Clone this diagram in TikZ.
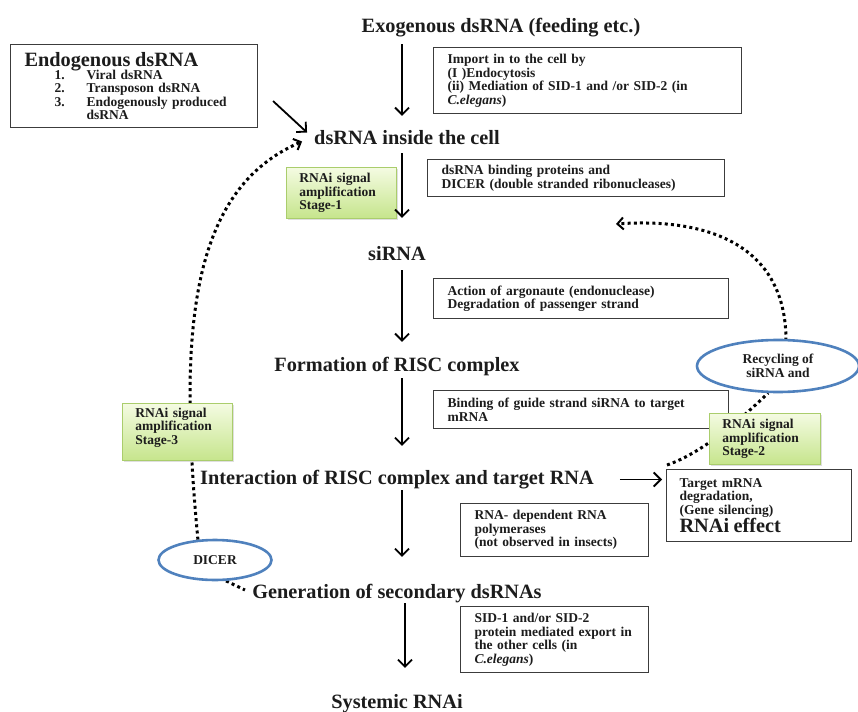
\documentclass[tikz,border=0pt]{standalone}
\usepackage{fontspec}
\setmainfont{Liberation Serif}
\usetikzlibrary{arrows.meta,shapes.geometric,shadows,backgrounds,calc}
\definecolor{txt}{HTML}{1C1C1C}
\definecolor{boxline}{HTML}{3C3C3C}
\definecolor{gtop}{HTML}{F4FBE2}
\definecolor{gbot}{HTML}{C6E58C}
\definecolor{gline}{HTML}{AACD6C}
\definecolor{eblue}{HTML}{4F81BD}
\begin{document}
\begin{tikzpicture}[x=1pt,y=-1pt,
  big/.style={font=\fontsize{20.3}{24}\selectfont\bfseries, text=txt, inner sep=0pt, anchor=base, text height=14pt, text depth=5pt},
  small/.style={font=\fontsize{13.5}{13.5}\selectfont\bfseries, text=txt},
  wbox/.style={small, draw=boxline, line width=1.1pt, fill=white, anchor=north west, align=left, inner xsep=14pt, inner ysep=0pt},
  gbox/.style={small, draw=gline, line width=0.8pt, top color=gtop, bottom color=gbot, anchor=north west, align=left, inner xsep=13pt, inner ysep=0pt, text width=84pt, drop shadow={opacity=0.25, shadow xshift=1.5pt, shadow yshift=-1.5pt}},
  oval/.style={ellipse, draw=eblue, line width=2.6pt, small, align=center, inner sep=0pt},
  arr/.style={line width=1.8pt, -{Straight Barb[length=7pt, width=14pt]}},
  dots/.style={line width=3pt, dash pattern=on 3pt off 3.2pt},
  darr/.style={dots, -{Straight Barb[length=6pt, width=12pt, line width=2pt]}}
]
\useasboundingbox (0,0) rectangle (858,711);

% main flow labels
\node[big] (exo) at (501,33) {Exogenous dsRNA (feeding etc.)};
\node[big] (inside) at (407,145) {dsRNA inside the cell};
\node[big] (sirna) at (397,260) {siRNA};
\node[big] (risc) at (397,371) {Formation of RISC complex};
\node[big] (inter) at (397,484) {Interaction of RISC complex and target RNA};
\node[big] (gen) at (397,598) {Generation of secondary dsRNAs};
\node[big] (sys) at (397,708) {Systemic RNAi};

% boxes
\node[wbox, text width=219pt, minimum height=83pt] (endo) at (10,44)
 {{\fontsize{20.3}{20}\selectfont Endogenous dsRNA}\\[-1.5pt]
  \hspace*{30pt}\makebox[32pt][l]{1.}Viral dsRNA\\
  \hspace*{30pt}\makebox[32pt][l]{2.}Transposon dsRNA\\
  \hspace*{30pt}\makebox[32pt][l]{3.}Endogenously produced\\
  \hspace*{62pt}dsRNA};
\node[wbox, text width=280pt, minimum height=66pt] (import) at (433,47)
 {Import in to the cell by\\(I )Endocytosis\\(ii) Mediation of SID-1 and /or SID-2 (in\\\textit{C.elegans})};
\node[wbox, text width=269pt, minimum height=37pt] (dbp) at (427,159)
 {dsRNA binding proteins and\\DICER (double stranded ribonucleases)};
\node[wbox, text width=267pt, minimum height=40pt] (argo) at (433,278)
 {Action of argonaute (endonuclease)\\Degradation of passenger strand};
\node[wbox, text width=267pt, minimum height=38pt] (guide) at (433,390)
 {Binding of guide strand siRNA to target\\mRNA};
\node[wbox, text width=160pt, minimum height=53pt] (rdrp) at (460,503)
 {RNA- dependent RNA\\polymerases\\(not observed in insects)};
\node[wbox, text width=160pt, minimum height=66pt] (sid) at (460,606)
 {SID-1 and/or SID-2\\protein mediated export in\\the other cells (in\\\textit{C.elegans})};
\node[wbox, inner xsep=13pt, text width=159pt, minimum height=72pt] (target) at (666,469)
 {Target mRNA\\degradation,\\(Gene silencing)\\{\fontsize{20.3}{20}\selectfont RNAi effect}};

% green boxes
\node[gbox, minimum height=51pt] (st1) at (286,167) {RNAi signal\\amplification\\Stage-1};
\node[gbox, minimum height=57pt] (st3) at (122,403) {RNAi signal\\amplification\\Stage-3\par\vspace*{9pt}};
\node[gbox, text width=85pt, minimum height=51pt] (st2) at (709,413) {RNAi signal\\amplification\\Stage-2};

% ellipses
\node[oval, minimum width=162pt, minimum height=52pt] (rec) at (778,366) {Recycling of\\siRNA and};
\node[oval, minimum width=113pt, minimum height=40pt] (dicer) at (215,560) {DICER};

\coordinate (ax) at (402,0);
\coordinate (ax2) at (405,0);
\coordinate (recyc) at (616,224);

% main arrows
\draw[arr, shorten <=6pt, shorten >=15pt] (exo.south -| ax) -- (inside.north -| ax);
\draw[arr, shorten <=3pt, shorten >=28pt] (inside.south -| ax) -- (sirna.north -| ax);
\draw[arr, shorten <=5pt, shorten >=15pt] (sirna.south -| ax) -- (risc.north -| ax);
\draw[arr, shorten <=2pt, shorten >=24pt] (risc.south -| ax) -- (inter.north -| ax);
\draw[arr, shorten <=1pt, shorten >=27pt] (inter.south -| ax) -- (gen.north -| ax);
\draw[arr, shorten <=0pt, shorten >=26pt] (gen.south -| ax2) -- (sys.north -| ax2);
\draw[arr, shorten <=26pt, shorten >=4pt] (inter.east) -- (inter.east -| target.west);
\draw[arr] ($(endo.south east)+(15,-27)$) -- ($(inside.west)+(-7,-8)$);

\begin{scope}[on background layer]
\fill[white] (0,0) rectangle (858,711);
\draw[darr] (dicer.130) .. controls (178,330) and (190,190) .. ($(inside.west)+(-12,1)$);
\draw[dots, shorten >=8pt] (dicer.-62) -- (gen.west);
\draw[darr] ($(rec.north)+(8,2)$) .. controls (786,240) and (700,218) .. (recyc);
\draw[dots] ($(target.north west)+(1,-4)$) .. controls (705,452) and (745,415) .. (rec.-110);
\end{scope}
\end{tikzpicture}
\end{document}
